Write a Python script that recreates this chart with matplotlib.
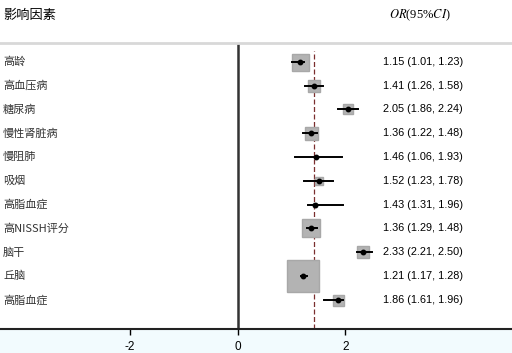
import matplotlib
matplotlib.use('Agg')
import matplotlib.pyplot as plt
from matplotlib.patches import Rectangle

plt.rcParams['font.family'] = ['Noto Sans CJK SC', 'DejaVu Sans']
plt.rcParams['mathtext.fontset'] = 'stix'

# 数据
factors = ['高龄', '高血压病', '糖尿病', '慢性肾脏病', '慢阻肺', '吸烟', '高脂血症',
           '高NISSH评分', '脑干', '丘脑', '高脂血症']
orv = [1.15, 1.41, 2.05, 1.36, 1.46, 1.52, 1.43, 1.36, 2.33, 1.21, 1.86]
lo = [1.01, 1.26, 1.86, 1.22, 1.06, 1.23, 1.31, 1.29, 2.21, 1.17, 1.61]
hi = [1.23, 1.58, 2.24, 1.48, 1.93, 1.78, 1.96, 1.48, 2.50, 1.28, 1.96]
weight = [17, 12, 10, 13, 2, 8, 5, 18, 12, 32, 11]  # 方块大小（权重）
ref_or = 1.41
xticks = [-2, 0, 2]

fig = plt.figure(figsize=(5.12, 3.53), dpi=100)
fig.patch.set_facecolor('white')
fig.patches.append(Rectangle((0, 0), 1, 0.066, transform=fig.transFigure,
                             facecolor='#f2fbfe', edgecolor='none', zorder=-1))

ax = fig.add_axes([0, 0.068, 1, 0.809])
ax.set_facecolor('none')
ax.set_xlim(-4.418, 5.098)
ax.set_ylim(11.22, -0.77)

y = list(range(len(factors)))
ax.axvline(0, color='#333333', lw=1.8, zorder=2)
ax.axvline(ref_or, ymax=0.975, color='#7a2e2e', lw=0.9, ls=(0, (4, 2)), zorder=2)

for i in y:
    ax.plot(orv[i], i, marker='s', ms=weight[i] * 0.72, color='#b3b3b3',
            mec='#a8a8a8', zorder=3)
    ax.plot([lo[i], hi[i]], [i, i], color='black', lw=1.4, zorder=4)
    ax.plot(orv[i], i, 'o', ms=3.2, color='black', zorder=5)
    ax.text(3 / 512, i, factors[i], transform=ax.get_yaxis_transform(),
            ha='left', va='center', fontsize=8, color='#333333')
    ax.text(383 / 512, i, '%.2f (%.2f, %.2f)' % (orv[i], lo[i], hi[i]),
            transform=ax.get_yaxis_transform(), ha='left', va='center',
            fontsize=7.8, family='Liberation Sans', color='black')

for s in ['left', 'right']:
    ax.spines[s].set_visible(False)
ax.spines['top'].set_color('#d8d8d8')
ax.spines['top'].set_linewidth(2)
ax.spines['bottom'].set_color('#222222')
ax.spines['bottom'].set_linewidth(1.5)
ax.set_yticks([])
ax.set_xticks(xticks)
ax.set_xticklabels([str(t) for t in xticks], family='Liberation Sans', fontsize=8.5)
ax.tick_params(axis='x', direction='out', length=4, width=1, pad=5)

fig.text(3 / 512, 1 - 15 / 353, '影响因素', ha='left', va='center', fontsize=9.5)
fig.text(420 / 512, 1 - 15 / 353, r'$OR$(95%$CI$)', ha='center', va='center',
         fontsize=9, family='Liberation Serif')

fig.savefig('out.png', dpi=100)
